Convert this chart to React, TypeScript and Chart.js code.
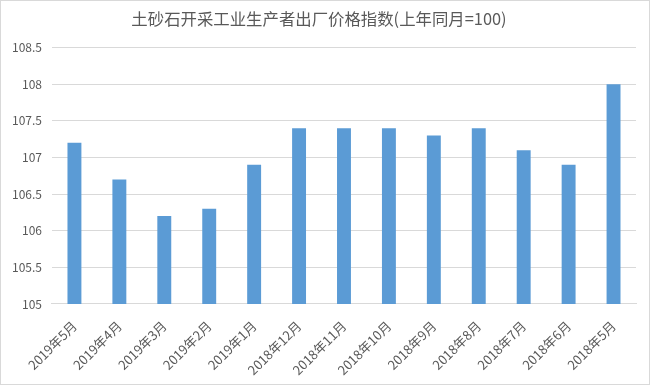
import React, { useEffect, useRef } from "react";
import { Chart, registerables } from "chart.js";

Chart.register(...registerables);

const categories = [
  "2019年5月", "2019年4月", "2019年3月", "2019年2月", "2019年1月",
  "2018年12月", "2018年11月", "2018年10月", "2018年9月", "2018年8月",
  "2018年7月", "2018年6月", "2018年5月",
];
const values = [107.2, 106.7, 106.2, 106.3, 106.9, 107.4, 107.4, 107.4, 107.3, 107.4, 107.1, 106.9, 108.0];
const titleText = "土砂石开采工业生产者出厂价格指数(上年同月=100)";
const yMin = 105;
const yMax = 108.5;
const yStep = 0.5;

export default function App() {
  const ref = useRef<HTMLCanvasElement>(null);
  useEffect(() => {
    document.body.style.margin = "0";
    const chart = new Chart(ref.current!, {
      type: "bar",
      data: {
        labels: categories,
        datasets: [
          {
            data: values,
            backgroundColor: "#5b9bd5",
            barPercentage: 0.62,
            categoryPercentage: 0.5,
          },
        ],
      },
      options: {
        animation: false,
        responsive: false,
        layout: { padding: { left: 1, right: 13, top: 2, bottom: 0 } },
        plugins: {
          legend: { display: false },
          tooltip: { enabled: false },
          title: {
            display: true,
            text: titleText,
            color: "#595959",
            font: { family: "'Noto Sans CJK SC', sans-serif", size: 16.4, weight: "normal" },
            padding: { top: 6, bottom: 19 },
          },
        },
        scales: {
          x: {
            grid: { display: false },
            border: { display: true, color: "#d9d9d9" },
            ticks: {
              color: "#595959",
              font: { family: "'Noto Sans CJK SC', sans-serif", size: 13 },
              minRotation: 45,
              maxRotation: 45,
              autoSkip: false,
              padding: 6,
            },
          },
          y: {
            min: yMin,
            max: yMax,
            grid: { color: "#d9d9d9", drawTicks: false },
            border: { display: false },
            ticks: {
              stepSize: yStep,
              color: "#595959",
              font: { family: "'Noto Sans CJK SC', sans-serif", size: 12 },
              padding: 10,
              callback: (v: any) => String(Number(v)),
            },
          },
        },
      },
    });
    return () => chart.destroy();
  }, []);
  return (
    <div
      style={{
        position: "fixed",
        left: 0,
        top: 0,
        width: 650,
        height: 385,
        boxSizing: "border-box",
        border: "1px solid #d9d9d9",
        background: "#fff",
      }}
    >
      <canvas ref={ref} width={648} height={383} />
    </div>
  );
}
